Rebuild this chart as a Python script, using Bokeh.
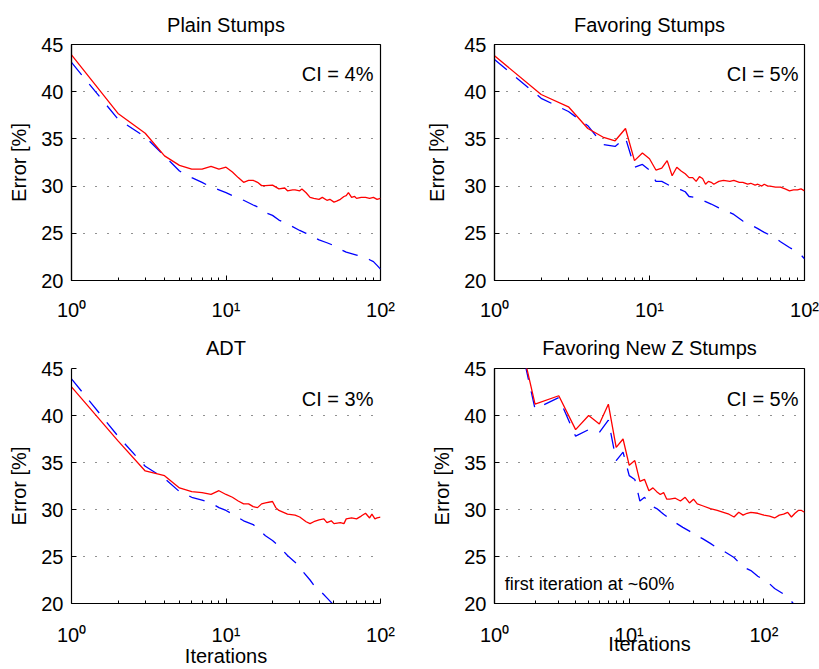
from bokeh.plotting import figure
from bokeh.layouts import column, row
from bokeh.models import Range1d, FixedTicker, Label
from bokeh.embed import file_html
from bokeh.resources import INLINE

FONT = "Liberation Sans"

# ---------------- data ----------------
titles = ["Plain Stumps", "Favoring Stumps", "ADT", "Favoring New Z Stumps"]
ci_texts = ["CI = 4%", "CI = 5%", "CI = 3%", "CI = 5%"]
y_ticks = [20, 25, 30, 35, 40, 45]
x_major = [1, 10, 100]
x_minor = [2, 3, 4, 5, 6, 7, 8, 9, 20, 30, 40, 50, 60, 70, 80, 90, 200]
x_tick_labels = {1: "10⁰", 10: "10¹", 100: "10²"}

plain_red_x = [1, 2, 3, 4, 5, 6, 7, 8, 9, 10, 11, 12, 13, 14, 15, 16, 17, 18, 20, 22, 24, 25, 27, 28,
               30, 31, 33, 35, 37, 40, 42, 45, 47, 50, 52, 55, 58, 60, 62, 65, 68, 70, 75, 80, 85, 90, 95, 100]
plain_red_y = [43.9, 37.7, 35.6, 33.2, 32.2, 31.8, 31.8, 32.1, 31.8, 32.0, 31.5, 30.9, 30.4, 30.6, 30.6, 30.4,
               30.05, 30.05, 30.1, 29.7, 29.8, 29.5, 29.6, 29.6, 29.5, 29.7, 29.3, 28.8, 28.7, 28.6, 28.8, 28.5,
               28.6, 28.3, 28.4, 28.6, 28.9, 29.0, 29.3, 28.8, 28.9, 28.7, 28.8, 28.8, 28.7, 28.8, 28.6, 28.7]
plain_blue_x = [1, 2, 3, 4, 5, 6, 7, 8, 9, 10, 12, 13, 15, 16, 18, 20, 22, 25, 30, 33, 35, 40, 45, 50,
                55, 60, 70, 80, 85, 90, 95, 100]
plain_blue_y = [43.1, 37.1, 35.2, 33.2, 31.6, 30.9, 30.4, 29.9, 29.6, 29.3, 28.7, 28.5, 28.0, 27.8, 27.2,
                26.9, 26.4, 26.0, 25.3, 25.0, 24.8, 24.3, 24.0, 23.7, 23.3, 23.0, 22.7, 22.4, 22.2, 22.0, 21.6, 21.2]

fav_red_x = [1, 2, 3, 4, 5, 6, 7, 8, 9, 10, 11, 12, 13, 14, 15, 16, 17, 18, 19, 20, 21, 22, 23, 24, 25, 26,
             28, 30, 33, 35, 38, 40, 43, 45, 48, 50, 53, 55, 58, 60, 65, 70, 75, 80, 85, 90, 95, 100]
fav_red_y = [43.8, 39.7, 38.4, 36.1, 35.2, 34.8, 36.1, 32.7, 33.5, 32.9, 31.7, 31.9, 32.7, 31.1, 32.0, 31.6,
             31.3, 30.9, 30.9, 30.5, 31.0, 30.8, 30.2, 30.5, 30.4, 30.2, 30.5, 30.6, 30.5, 30.6, 30.4, 30.4,
             30.2, 30.3, 30.1, 30.2, 30.0, 30.2, 30.0, 30.0, 29.9, 29.9, 29.7, 29.5, 29.6, 29.6, 29.7, 29.5]
fav_blue_x = [1, 2, 3, 4, 5, 6, 7, 8, 9, 10, 11, 12, 13, 14, 15, 16, 17, 18, 20, 22, 25, 28, 30, 35, 40, 45,
              50, 55, 60, 65, 70, 80, 90, 95, 100]
fav_blue_y = [43.4, 39.3, 37.9, 36.4, 34.4, 34.2, 35.1, 32.0, 32.3, 31.7, 30.5, 30.5, 30.2, 29.9, 29.7, 29.6,
              29.4, 28.9, 28.8, 28.5, 28.1, 27.7, 27.5, 27.0, 26.3, 25.9, 25.5, 25.1, 24.8, 24.5, 24.1, 23.5,
              23.0, 22.7, 22.3]

adt_red_x = [1, 2, 3, 4, 5, 6, 7, 8, 9, 10, 11, 12, 13, 14, 15, 16, 17, 18, 20, 21, 22, 25, 28, 30, 33, 35,
             37, 40, 43, 45, 48, 50, 55, 58, 60, 65, 70, 75, 80, 85, 88, 92, 95, 100]
adt_red_y = [43.05, 37.3, 34.1, 33.6, 32.3, 31.9, 31.8, 31.6, 32.0, 31.6, 31.3, 30.9, 30.6, 30.6, 30.3, 30.2,
             30.6, 30.7, 30.85, 30.2, 29.9, 29.5, 29.4, 29.2, 28.7, 28.5, 28.7, 28.9, 29.0, 28.6, 28.8, 28.5,
             28.6, 28.5, 29.0, 29.1, 29.0, 29.3, 29.6, 29.1, 29.5, 29.0, 29.1, 29.2]
adt_blue_x = [1, 2, 3, 4, 5, 6, 7, 8, 9, 10, 12, 13, 15, 18, 20, 22, 25, 28, 30, 35, 38, 41, 45, 50, 60,
              70, 80, 100]
adt_blue_y = [43.9, 37.8, 34.6, 33.3, 31.9, 31.3, 31.0, 30.7, 30.2, 29.9, 29.15, 28.8, 28.4, 27.2, 26.7,
              26.1, 25.1, 24.4, 23.8, 22.5, 21.7, 21.3, 20.6, 19.8, 18.8, 18.0, 17.3, 16.0]

newz_red_x = [1, 2, 3, 4, 5, 6, 7, 8, 9, 10, 11, 12, 13, 14, 15, 16, 17, 18, 19, 20, 22, 24, 26, 28, 30, 32,
              35, 40, 45, 50, 55, 60, 65, 70, 75, 80, 90, 100, 110, 120, 130, 140, 150, 160, 170, 180, 190, 200]
newz_red_y = [60.0, 41.2, 42.1, 38.5, 40.0, 39.1, 41.2, 36.6, 37.5, 34.7, 35.2, 33.0, 33.2, 32.0, 32.3, 31.9,
              31.6, 31.8, 31.1, 31.1, 31.2, 30.9, 31.3, 30.7, 31.1, 30.6, 30.4, 30.1, 29.9, 29.7, 29.5, 29.2,
              29.7, 29.4, 29.6, 29.7, 29.6, 29.4, 29.3, 29.1, 29.4, 29.5, 29.7, 29.2, 29.6, 29.9, 29.9, 29.7]
newz_blue_x = [1, 2, 3, 4, 5, 6, 7, 8, 9, 10, 11, 12, 13, 14, 15, 16, 17, 18, 20, 22, 25, 28, 30, 35, 40,
               45, 50, 60, 70, 80, 90, 100, 110, 120, 140, 150, 165, 180, 200]
newz_blue_y = [60.0, 40.7, 41.9, 37.8, 38.5, 38.2, 39.5, 35.2, 36.1, 33.6, 33.2, 30.9, 31.3, 30.7, 30.3,
               30.1, 29.8, 29.5, 29.0, 28.6, 28.1, 27.7, 27.4, 26.9, 26.4, 25.9, 25.6, 24.9, 23.9, 23.5, 22.9,
               22.5, 22.1, 21.6, 21.0, 20.7, 20.0, 19.6, 19.2]

series = [
    (plain_red_x, plain_red_y, plain_blue_x, plain_blue_y),
    (fav_red_x, fav_red_y, fav_blue_x, fav_blue_y),
    (adt_red_x, adt_red_y, adt_blue_x, adt_blue_y),
    (newz_red_x, newz_red_y, newz_blue_x, newz_blue_y),
]
x_max = [100, 100, 100, 200]
x_labels = [None, None, "Iterations", "Iterations"]

# ---------------- layout parameters ----------------
cfg = [
    dict(w=410, h=323, l=71, r=30, t=44, b=43, boxed=True, ys=8, xs=18, ts=18, xls=0),
    dict(w=409, h=323, l=84, r=15, t=44, b=43, boxed=True, ys=13, xs=18, ts=18, xls=0),
    dict(w=410, h=346, l=71, r=30, t=45, b=66, boxed=False, ys=8, xs=20, ts=20, xls=-4),
    dict(w=409, h=346, l=84, r=15, t=45, b=66, boxed=True, ys=8, xs=20, ts=20, xls=-16),
]
ci_pos = [(90, 41.9), (91.5, 41.9), (90, 41.8), (180.6, 41.8)]


def make_panel(i):
    c = cfg[i]
    p = figure(width=c["w"], height=c["h"], x_axis_type="log",
               x_range=Range1d(1, x_max[i]), y_range=Range1d(20, 45),
               output_backend="svg", toolbar_location=None,
               min_border_left=c["l"], min_border_right=c["r"],
               min_border_top=c["t"], min_border_bottom=c["b"])
    p.title.text = titles[i]
    p.title.text_font = FONT
    p.title.text_font_size = "20px"
    p.title.text_font_style = "normal"
    p.title.align = "center"
    p.title.text_color = "black"
    p.title.standoff = c["ts"]

    p.outline_line_color = "black" if c["boxed"] else None
    p.outline_line_width = 1.2

    p.xgrid.visible = False
    p.ygrid.grid_line_color = "#222222"
    p.ygrid.grid_line_dash = "1 11"
    p.ygrid.grid_line_width = 1

    xa = p.xaxis[0]
    xa.ticker = FixedTicker(ticks=x_major, minor_ticks=x_minor)
    xa.major_label_overrides = x_tick_labels
    xa.major_label_text_font = FONT
    xa.major_label_text_font_size = "20px"
    xa.major_label_text_color = "black"
    xa.major_label_standoff = c["xs"]
    xa.major_tick_in = 5
    xa.major_tick_out = 0
    xa.minor_tick_in = 3
    xa.minor_tick_out = 0
    xa.axis_line_color = "black"
    xa.axis_line_width = 1.2
    xa.major_tick_line_color = "black"
    xa.minor_tick_line_color = "black"
    if x_labels[i]:
        xa.axis_label = x_labels[i]
        xa.axis_label_text_font = FONT
        xa.axis_label_text_font_size = "20px"
        xa.axis_label_text_font_style = "normal"
        xa.axis_label_text_color = "black"
        xa.axis_label_standoff = c["xls"]

    ya = p.yaxis[0]
    ya.ticker = FixedTicker(ticks=y_ticks)
    ya.major_label_text_font = FONT
    ya.major_label_text_font_size = "20px"
    ya.major_label_text_color = "black"
    ya.major_label_standoff = 8
    ya.major_tick_in = 5
    ya.major_tick_out = 0
    ya.minor_tick_line_color = None
    ya.axis_line_color = "black"
    ya.axis_line_width = 1.2
    ya.major_tick_line_color = "black"
    ya.axis_label = "Error [%]"
    ya.axis_label_text_font = FONT
    ya.axis_label_text_font_size = "20px"
    ya.axis_label_text_font_style = "normal"
    ya.axis_label_text_color = "black"
    ya.axis_label_standoff = c["ys"]

    rx, ry, bx, by = series[i]
    p.line(bx, by, line_color="#0000FF", line_width=1.3, line_dash="16 12")
    p.line(rx, ry, line_color="#FF0000", line_width=1.3)

    cx, cy = ci_pos[i]
    p.add_layout(Label(x=cx, y=cy, text=ci_texts[i], text_align="right", text_baseline="middle",
                       text_font=FONT, text_font_size="20px", text_color="black"))
    return p


p1 = make_panel(0)
p2 = make_panel(1)
p3 = make_panel(2)
p4 = make_panel(3)

p4.add_layout(Label(x=1.19, y=22.1, text="first iteration at ~60%", text_align="left",
                    text_baseline="middle", text_font=FONT, text_font_size="18px", text_color="black"))

layout = column(row(p1, p2), row(p3, p4))
open("out.html", "w").write(file_html(layout, INLINE))
